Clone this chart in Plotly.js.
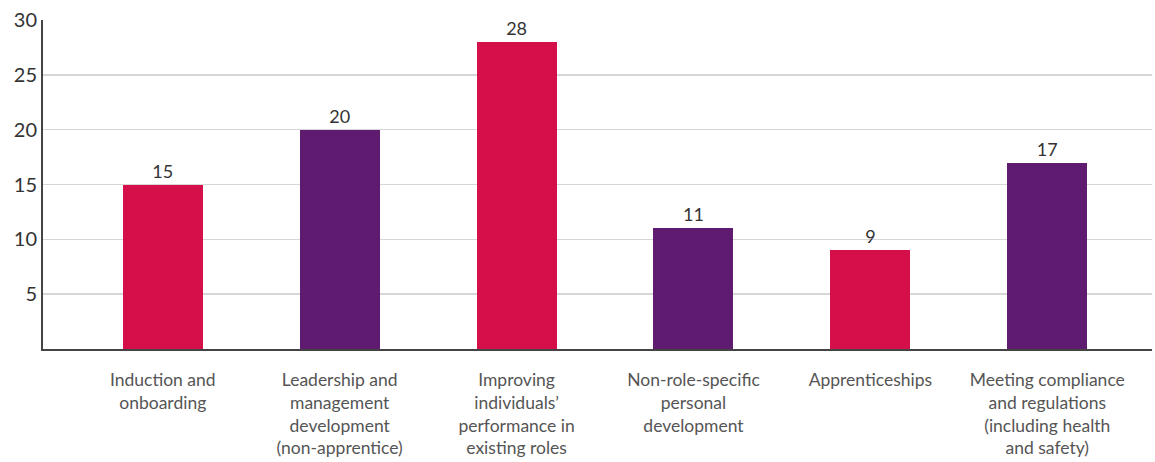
<!DOCTYPE html>
<html>
<head>
<meta charset="utf-8">
<script src="https://cdn.plot.ly/plotly-3.0.1.min.js"></script>
<style>html,body{margin:0;padding:0;background:#fff;}#chart{width:1155px;height:462px;}</style>
</head>
<body>
<div id="chart"></div>
<script>
const categories = [
  "Induction and<br>onboarding",
  "Leadership and<br>management<br>development<br>(non-apprentice)",
  "Improving<br>individuals’<br>performance in<br>existing roles",
  "Non-role-specific<br>personal<br>development",
  "Apprenticeships",
  "Meeting compliance<br>and regulations<br>(including health<br>and safety)"
];
const values = [15, 20, 28, 11, 9, 17];
const barColors = ["#D40F4A", "#5F1B6F", "#D40F4A", "#5F1B6F", "#D40F4A", "#5F1B6F"];
const yTicks = [5, 10, 15, 20, 25, 30];

const trace = {
  type: "bar",
  x: categories,
  y: values,
  marker: {color: barColors},
  width: 0.452,
  text: values.map(String),
  textposition: "outside",
  textfont: {family: "Lato, 'Open Sans', sans-serif", size: 18, color: "#333333"},
  cliponaxis: false,
  hoverinfo: "none"
};

const layout = {
  width: 1155,
  height: 462,
  margin: {l: 43, r: 3, t: 20, b: 113},
  paper_bgcolor: "#ffffff",
  plot_bgcolor: "#ffffff",
  showlegend: false,
  bargap: 0,
  xaxis: {
    type: "category",
    range: [-0.677, 5.592],
    showgrid: false,
    showline: true,
    linecolor: "#444444",
    linewidth: 2,
    ticks: "",
    ticklabelstandoff: 14,
    tickfont: {family: "Lato, 'Open Sans', sans-serif", size: 17.5, color: "#555555"},
    zeroline: false
  },
  yaxis: {
    range: [0, 30],
    tickvals: yTicks,
    ticktext: yTicks.map(String),
    showgrid: true,
    gridcolor: "#d6d6d6",
    gridwidth: 1.5,
    showline: true,
    linecolor: "#444444",
    linewidth: 2,
    ticks: "",
    ticklen: 0,
    ticklabelstandoff: 0,
    tickfont: {family: "Lato, 'Open Sans', sans-serif", size: 20, color: "#333333"},
    zeroline: false
  }
};

Plotly.newPlot("chart", [trace], layout, {displayModeBar: false, staticPlot: true});
</script>
</body>
</html>
